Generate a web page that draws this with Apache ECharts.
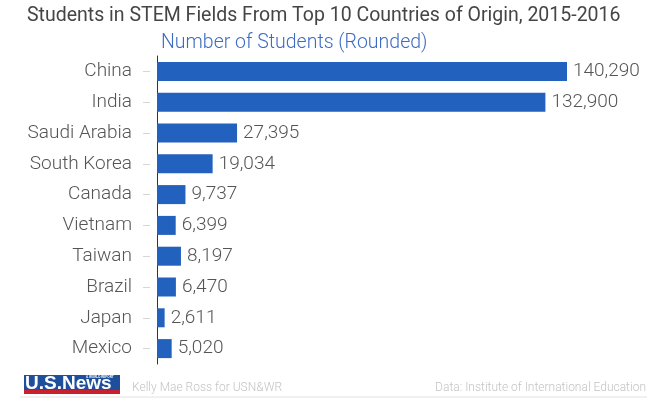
<!DOCTYPE html>
<html><head><meta charset="utf-8">
<script src="https://cdn.jsdelivr.net/npm/echarts@6/dist/echarts.min.js"></script>
<style>html,body{margin:0;padding:0;background:#fff}#c{width:655px;height:399px}</style>
</head><body><div id="c"></div>
<script>
const categories = ["China","India","Saudi Arabia","South Korea","Canada","Vietnam","Taiwan","Brazil","Japan","Mexico"];
const students = [140290,132900,27395,19034,9737,6399,8197,6470,2611,5020];
const titleText = "Students in STEM Fields From Top 10 Countries of Origin, 2015-2016";
const subtitleText = "Number of Students (Rounded)";
const creditText = "Kelly Mae Ross for USN&WR";
const sourceText = "Data: Institute of International Education";

const chart = echarts.init(document.getElementById('c'), null, {renderer:'canvas'});
const font = 'Roboto, "Noto Sans", sans-serif';
chart.setOption({
  animation:false,
  textStyle:{fontFamily:font},
  title:[
    {text:titleText,left:22,top:1,textStyle:{fontSize:19.5,fontWeight:400,color:'#454545',fontFamily:font}},
    {text:subtitleText,left:156,top:28,textStyle:{fontSize:19.5,fontWeight:300,color:'#3d6cc0',fontFamily:font}}
  ],
  grid:{left:157,top:56,width:467.6,height:308,containLabel:false},
  xAxis:{type:'value',min:0,max:160000,show:false},
  yAxis:[
    {type:'category',data:categories,inverse:true,
     axisLine:{show:true,lineStyle:{color:'#333',width:1}},
     axisTick:{show:false},
     axisLabel:{margin:25,fontSize:19,fontWeight:300,color:'#555',fontFamily:font}},
    {type:'category',data:categories,inverse:true,position:'left',offset:7,
     axisLine:{show:false},
     axisTick:{show:true,alignWithLabel:true,length:7,lineStyle:{color:'#d6d6d6'}},
     axisLabel:{show:false}}
  ],
  series:[{type:'bar',data:students,yAxisIndex:0,barWidth:19,
    itemStyle:{color:'#2261be'},
    label:{show:true,position:'right',distance:6,fontSize:19,fontWeight:300,color:'#555',fontFamily:font,
      formatter:p=>p.value.toLocaleString('en-US')}}],
  graphic:[
    {type:'rect',shape:{x:24,y:375,width:96,height:16},style:{fill:'#1d4f9c'}},
    {type:'rect',shape:{x:24,y:390,width:96,height:4},style:{fill:'#c8202f'}},
    {type:'text',x:25,y:374,style:{text:'U.S.News',fill:'#fff',font:'bold 19px "Liberation Sans Narrow", Arial, sans-serif'}},
    {type:'text',x:86,y:376,style:{text:'& WORLD REPORT',fill:'#fff',font:'bold 3px Arial, sans-serif'}},
    {type:'text',left:132,top:382,style:{text:creditText,fill:'#c4c4c4',font:'300 12px '+font}},
    {type:'text',right:9,top:382,style:{text:sourceText,fill:'#c4c4c4',font:'300 12px '+font}},
    {type:'line',shape:{x1:20,y1:397,x2:647,y2:397},style:{stroke:'#e2e2e2',lineWidth:1}}
  ]
});
</script></body></html>
